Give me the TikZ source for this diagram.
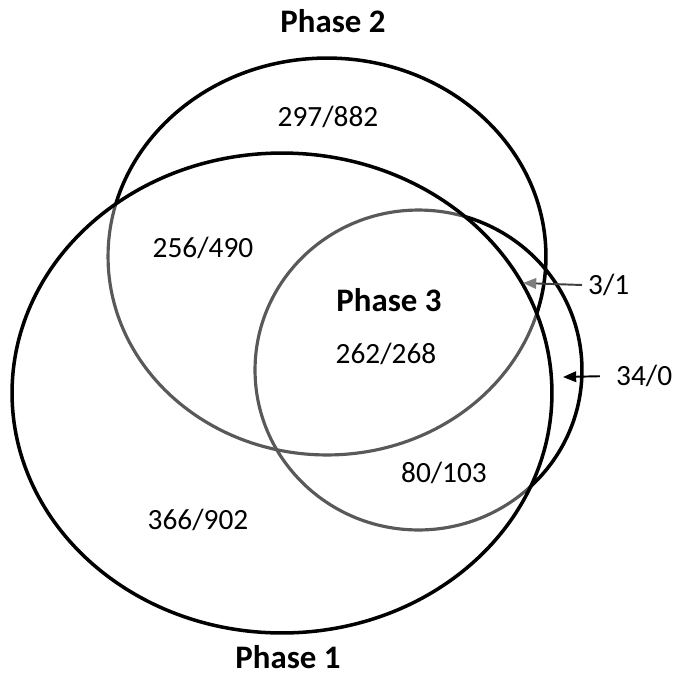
\documentclass[tikz,border=0pt]{standalone}
\usepackage{fontspec}
\setmainfont{Carlito}
\usetikzlibrary{arrows.meta}
\definecolor{ringgray}{HTML}{595959}
\definecolor{tipgray}{HTML}{7F7F7F}
\begin{document}
\begin{tikzpicture}[x=0.02cm,y=-0.02cm,
    ring/.style={line width=2pt},
    inner ring/.style={line width=1.8pt,ringgray},
    count/.style={font=\fontsize{16.7}{20}\selectfont},
    phaselabel/.style={font=\fontsize{18.7}{22}\selectfont\bfseries},
    pointer/.style={line width=1.1pt,-{Triangle[length=7.5pt,width=6pt]}}]
    \useasboundingbox (0,0) rectangle (681,681);

    \coordinate (c1) at (282,393);
    \coordinate (c2) at (327,256.5);
    \coordinate (c3) at (418.5,370);

    % parts of phase 2 and 3 outside phase 1
    \begin{scope}[even odd rule]
        \clip (-10,-10) rectangle (691,691)
            (c1) ellipse [x radius=5.4cm, y radius=4.8cm];
        \draw[ring] (c2) ellipse [x radius=4.38cm, y radius=3.97cm];
        \draw[ring] (c3) ellipse [x radius=3.27cm, y radius=3.2cm];
    \end{scope}
    % parts inside phase 1
    \begin{scope}
        \clip (c1) ellipse [x radius=5.4cm, y radius=4.8cm];
        \draw[inner ring] (c2) ellipse [x radius=4.38cm, y radius=3.97cm];
        \draw[inner ring] (c3) ellipse [x radius=3.27cm, y radius=3.2cm];
    \end{scope}
    \draw[ring] (c1) ellipse [x radius=5.4cm, y radius=4.8cm];

    \node[phaselabel] (phase2) at (333,21) {Phase 2};
    \node[phaselabel] (phase1) at (288,657) {Phase 1};
    \node[phaselabel] (phase3) at (389,300) {Phase 3};

    \node[count] (only2)   at (328,117) {297/882};
    \node[count] (both12)  at (203,248) {256/490};
    \node[count] (all)     at (386,354) {262/268};
    \node[count] (both13)  at (444,473) {80/103};
    \node[count] (only1)   at (198,520) {366/902};
    \node[count,anchor=west] (both23) at (582,285) {3/1};
    \node[count,anchor=west] (only3)  at (610,376) {34/0};

    \coordinate (tip23) at (523,283);
    \coordinate (tip3)  at (563,377);
    \draw[pointer,ringgray!70!black,-{Triangle[length=7.5pt,width=6pt,color=tipgray]}]
        (both23.west) -- (tip23);
    \draw[pointer,shorten <=5.7pt] (only3.west) -- (tip3);
\end{tikzpicture}
\end{document}
